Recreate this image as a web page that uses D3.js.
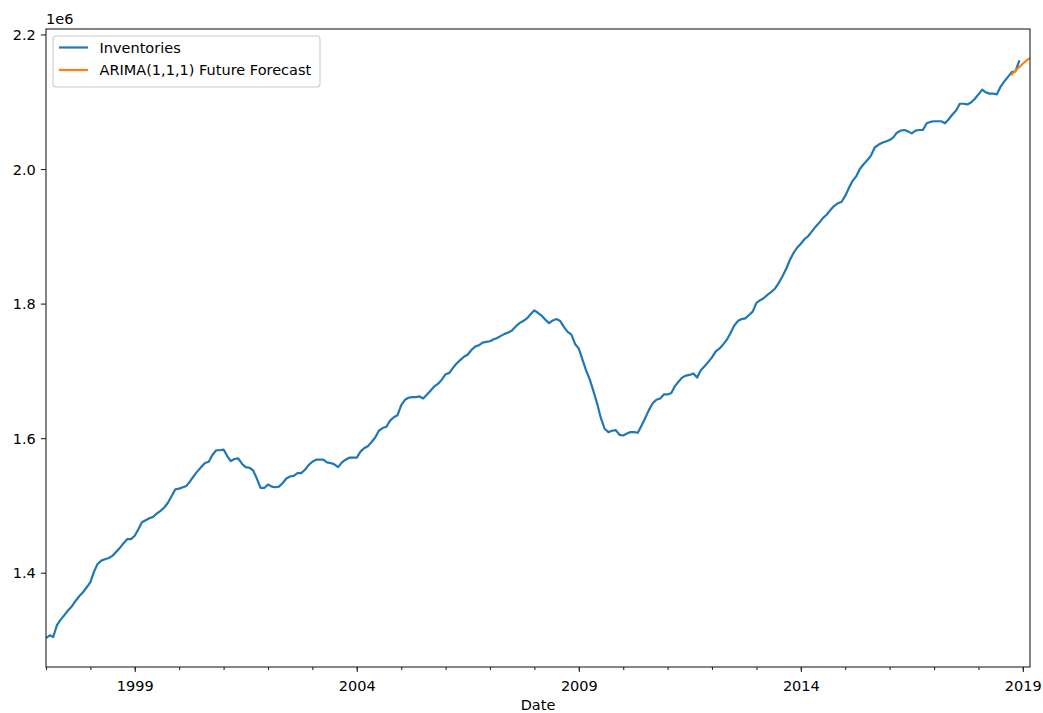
<!DOCTYPE html>
<html>
<head>
<meta charset="utf-8">
<script src="https://cdn.jsdelivr.net/npm/d3@7"></script>
<style>
  html, body { margin: 0; padding: 0; background: #fff; }
  svg { display: block; }
  text { font-family: "DejaVu Sans", sans-serif; fill: #000; }
</style>
</head>
<body>
<svg id="chart" width="1043" height="713"></svg>
<script>
// Monthly trade inventories, January 1997 onward
const inventoriesStart = "1997-01";
const inventories = [
  1303000, 1307000, 1304500, 1322000, 1330000, 1337000, 1344000, 1350000, 1358000, 1365000, 1371000, 1378000,
  1386000, 1402000, 1413000, 1418000, 1420000, 1422000, 1425000, 1431000, 1437000, 1444000, 1450000, 1450000,
  1455000, 1465000, 1475000, 1478000, 1481000, 1483000, 1488000, 1492000, 1497000, 1504000, 1514000, 1524000,
  1525000, 1527000, 1529000, 1536000, 1544000, 1551000, 1557000, 1563000, 1565000, 1575000, 1582000, 1582000,
  1583000, 1573000, 1566000, 1569000, 1570000, 1562000, 1557000, 1556000, 1552000, 1540000, 1526000, 1526000,
  1531000, 1528000, 1527000, 1528000, 1533000, 1540000, 1543000, 1544000, 1548000, 1548000, 1553000, 1560000,
  1565000, 1568000, 1568000, 1568000, 1564000, 1563000, 1561000, 1557000, 1564000, 1568000, 1571000, 1571000,
  1571000, 1580000, 1585000, 1588000, 1594000, 1601000, 1611000, 1615000, 1617000, 1626000, 1631000, 1634000,
  1649000, 1657000, 1660000, 1661000, 1661000, 1662000, 1659000, 1665000, 1671000, 1677000, 1681000, 1687000,
  1695000, 1697000, 1704000, 1711000, 1716000, 1721000, 1724000, 1731000, 1736000, 1738000, 1742000, 1743000,
  1744000, 1747000, 1749000, 1752000, 1755000, 1757000, 1760000, 1766000, 1771000, 1774000, 1778000, 1784000,
  1790000, 1786000, 1782000, 1776000, 1771000, 1775000, 1777000, 1774000, 1765000, 1758000, 1754000, 1740000,
  1733000, 1716000, 1701000, 1687000, 1670000, 1651000, 1630000, 1614000, 1609000, 1611000, 1612000, 1605000,
  1604000, 1607000, 1609000, 1609000, 1608000, 1619000, 1630000, 1642000, 1652000, 1657000, 1659000, 1665000,
  1665000, 1667000, 1677000, 1684000, 1690000, 1693000, 1694000, 1696000, 1690000, 1701000, 1707000, 1713000,
  1720000, 1729000, 1733000, 1739000, 1746000, 1756000, 1767000, 1774000, 1777000, 1778000, 1783000, 1788000,
  1801000, 1805000, 1808000, 1813000, 1817000, 1822000, 1830000, 1840000, 1851000, 1864000, 1875000, 1883000,
  1889000, 1896000, 1900000, 1907000, 1914000, 1920000, 1927000, 1932000, 1939000, 1945000, 1949000, 1951000,
  1960000, 1972000, 1982000, 1989000, 2000000, 2007000, 2013000, 2020000, 2032000, 2036000, 2039000, 2041000,
  2043000, 2047000, 2054000, 2057000, 2058000, 2056000, 2053000, 2057000, 2058000, 2058000, 2068000, 2070000,
  2071000, 2071000, 2071000, 2068000, 2074000, 2081000, 2087000, 2097000, 2097000, 2096000, 2099000, 2104000,
  2111000, 2118000, 2114000, 2112000, 2112000, 2111000, 2122000, 2130000, 2137000, 2144000, 2145000, 2160000
];

// ARIMA(1,1,1) forecast, October 2018 onward
const forecastStart = "2018-10";
const forecast = [2140500, 2146200, 2151300, 2156500, 2161400, 2165000];

// Axis ticks
const xMajorYears = [1999, 2004, 2009, 2014, 2019];
const yTicks = [1400000, 1600000, 1800000, 2000000, 2200000];

const seriesNames = ["Inventories", "ARIMA(1,1,1) Future Forecast"];
const seriesColors = ["#1f77b4", "#ff7f0e"];

// ---- helpers ----
const parseMonth = d3.utcParse("%Y-%m");
function monthly(start, values) {
  const s = parseMonth(start);
  return values.map((v, i) => ({ date: d3.utcMonth.offset(s, i), value: v }));
}
const invData = monthly(inventoriesStart, inventories);
const fcData = monthly(forecastStart, forecast);
const allData = invData.concat(fcData);

// ---- layout ----
const svg = d3.select("#chart");
const plot = { left: 46, right: 1030, top: 29, bottom: 667 };
const fs = 14.5;

// x spans the full period range, y gets 5% margins on the data extent
const x = d3.scaleUtc()
  .domain(d3.extent(allData, d => d.date))
  .range([plot.left, plot.right]);

const [vmin, vmax] = d3.extent(allData, d => d.value);
const pad = (vmax - vmin) * 0.05;
const y = d3.scaleLinear()
  .domain([vmin - pad, vmax + pad])
  .range([plot.bottom, plot.top]);

// clip to the axes
svg.append("defs").append("clipPath").attr("id", "clip")
  .append("rect")
  .attr("x", plot.left).attr("y", plot.top)
  .attr("width", plot.right - plot.left).attr("height", plot.bottom - plot.top);

const line = d3.line().x(d => x(d.date)).y(d => y(d.value));

const lines = svg.append("g").attr("clip-path", "url(#clip)");
[invData, fcData].forEach((data, k) => {
  lines.append("path")
    .datum(data)
    .attr("fill", "none")
    .attr("stroke", seriesColors[k])
    .attr("stroke-width", 2.2)
    .attr("stroke-linejoin", "round")
    .attr("stroke-linecap", "square")
    .attr("d", line);
});

// ---- axes ----
const tickColor = "#222";

// minor yearly ticks
const minorYears = d3.utcYear.range(x.domain()[0], d3.utcDay.offset(x.domain()[1], 1));
const xMinor = svg.append("g")
  .attr("transform", `translate(0,${plot.bottom})`)
  .call(d3.axisBottom(x).tickValues(minorYears).tickSize(2.9).tickFormat(""));
xMinor.select(".domain").remove();
xMinor.selectAll("line").attr("stroke", tickColor).attr("stroke-width", 1.1);

// major ticks with year labels
const majorDates = xMajorYears.map(yr => new Date(Date.UTC(yr, 0, 1)));
const xMajor = svg.append("g")
  .attr("transform", `translate(0,${plot.bottom})`)
  .call(d3.axisBottom(x).tickValues(majorDates).tickSize(5.1).tickPadding(5.1)
        .tickFormat(d3.utcFormat("%Y")));
xMajor.select(".domain").remove();
xMajor.selectAll("line").attr("stroke", tickColor).attr("stroke-width", 1.1);
xMajor.selectAll("text")
  .attr("font-size", fs).attr("font-family", "DejaVu Sans")
  .attr("fill", "#000").attr("y", 24).attr("dy", null);

const yAxis = svg.append("g")
  .attr("transform", `translate(${plot.left},0)`)
  .call(d3.axisLeft(y).tickValues(yTicks).tickSize(5.1).tickPadding(5.1)
        .tickFormat(d => (d / 1e6).toFixed(1)));
yAxis.select(".domain").remove();
yAxis.selectAll("line").attr("stroke", tickColor).attr("stroke-width", 1.1);
yAxis.selectAll("text")
  .attr("font-size", fs).attr("font-family", "DejaVu Sans")
  .attr("fill", "#000").attr("dy", "0.36em");

// offset text for the y scale
svg.append("text")
  .attr("x", plot.left).attr("y", 24)
  .attr("font-size", fs)
  .text("1e6");

// x axis label
svg.append("text")
  .attr("x", (plot.left + plot.right) / 2).attr("y", 710)
  .attr("text-anchor", "middle")
  .attr("font-size", fs)
  .text("Date");

// frame
svg.append("rect")
  .attr("x", plot.left).attr("y", plot.top)
  .attr("width", plot.right - plot.left).attr("height", plot.bottom - plot.top)
  .attr("fill", "none").attr("stroke", tickColor).attr("stroke-width", 1.1);

// ---- legend ----
const lg = svg.append("g").attr("transform", "translate(53,36)");
lg.append("rect")
  .attr("x", 0).attr("y", 0).attr("width", 267).attr("height", 51)
  .attr("rx", 3).attr("ry", 3)
  .attr("fill", "#fff").attr("fill-opacity", 0.8)
  .attr("stroke", "#cccccc").attr("stroke-width", 1.1);
seriesNames.forEach((name, k) => {
  const cy = 11.5 + k * 22.5;
  lg.append("line")
    .attr("x1", 6).attr("x2", 35).attr("y1", cy).attr("y2", cy)
    .attr("stroke", seriesColors[k]).attr("stroke-width", 2.2);
  lg.append("text")
    .attr("x", 46.5).attr("y", cy).attr("dy", "0.36em")
    .attr("font-size", fs)
    .text(name);
});
</script>
</body>
</html>
